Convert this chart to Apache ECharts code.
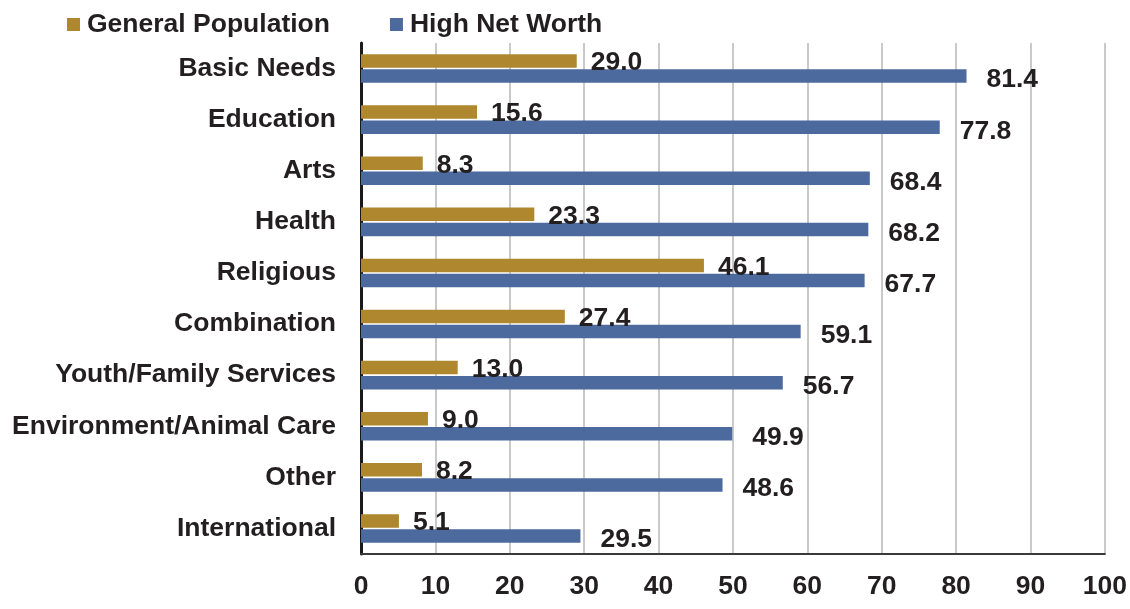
<!DOCTYPE html>
<html>
<head>
<meta charset="utf-8">
<script src="https://cdn.jsdelivr.net/npm/echarts@6/dist/echarts.min.js"></script>
<style>
html,body{margin:0;padding:0;background:#fff;}
#c{width:1130px;height:609px;}
</style>
</head>
<body>
<div id="c"></div>
<script>
const categories = ["Basic Needs","Education","Arts","Health","Religious","Combination","Youth/Family Services","Environment/Animal Care","Other","International"];
const generalPopulation = [29.0,15.6,8.3,23.3,46.1,27.4,13.0,9.0,8.2,5.1];
const highNetWorth = [81.4,77.8,68.4,68.2,67.7,59.1,56.7,49.9,48.6,29.5];
const xTicks = {min:0,max:100,interval:10};

const FONT = '"Liberation Sans", Arial, sans-serif';
const TXT = '#231F20';
const FS = 26.5;
const chart = echarts.init(document.getElementById('c'), null, {renderer:'canvas'});
chart.setOption({
  animation:false,
  backgroundColor:'#ffffff',
  textStyle:{fontFamily:FONT},
  legend:{
    top:6,left:62,itemGap:60,itemWidth:13,itemHeight:13,icon:'rect',
    textStyle:{fontFamily:FONT,fontWeight:'bold',fontSize:FS,color:TXT,padding:[0,0,0,2]},
    data:['General Population','High Net Worth']
  },
  grid:{left:361,right:25,top:43,bottom:55,containLabel:false},
  xAxis:{
    type:'value',min:xTicks.min,max:xTicks.max,interval:xTicks.interval,
    axisLine:{show:true,lineStyle:{color:'#3a3a3a',width:2}},
    axisTick:{show:false},
    splitLine:{show:true,lineStyle:{color:'#c9c9c9',width:2}},
    axisLabel:{fontFamily:FONT,fontWeight:'bold',fontSize:FS,color:TXT,margin:19}
  },
  yAxis:{
    type:'category',data:categories,inverse:true,
    axisLine:{show:true,lineStyle:{color:'#1a1a1a',width:3}},
    axisTick:{show:false},
    axisLabel:{fontFamily:FONT,fontWeight:'bold',fontSize:FS,color:TXT,margin:25,padding:[4,0,0,0]}
  },
  series:[
    {name:'General Population',type:'bar',data:generalPopulation,barWidth:13.5,barGap:'12%',
     itemStyle:{color:'#AE872E'},
     label:{show:true,position:'right',distance:14,offset:[0,2],formatter:p=>p.value.toFixed(1),
       fontFamily:FONT,fontWeight:'bold',fontSize:FS,color:TXT}},
    {name:'High Net Worth',type:'bar',data:highNetWorth,barWidth:13.5,barGap:'12%',
     itemStyle:{color:'#4D6A9E'},
     label:{show:true,position:'right',distance:20,offset:[0,4],formatter:p=>p.value.toFixed(1),
       fontFamily:FONT,fontWeight:'bold',fontSize:FS,color:TXT}}
  ]
});
</script>
</body>
</html>
